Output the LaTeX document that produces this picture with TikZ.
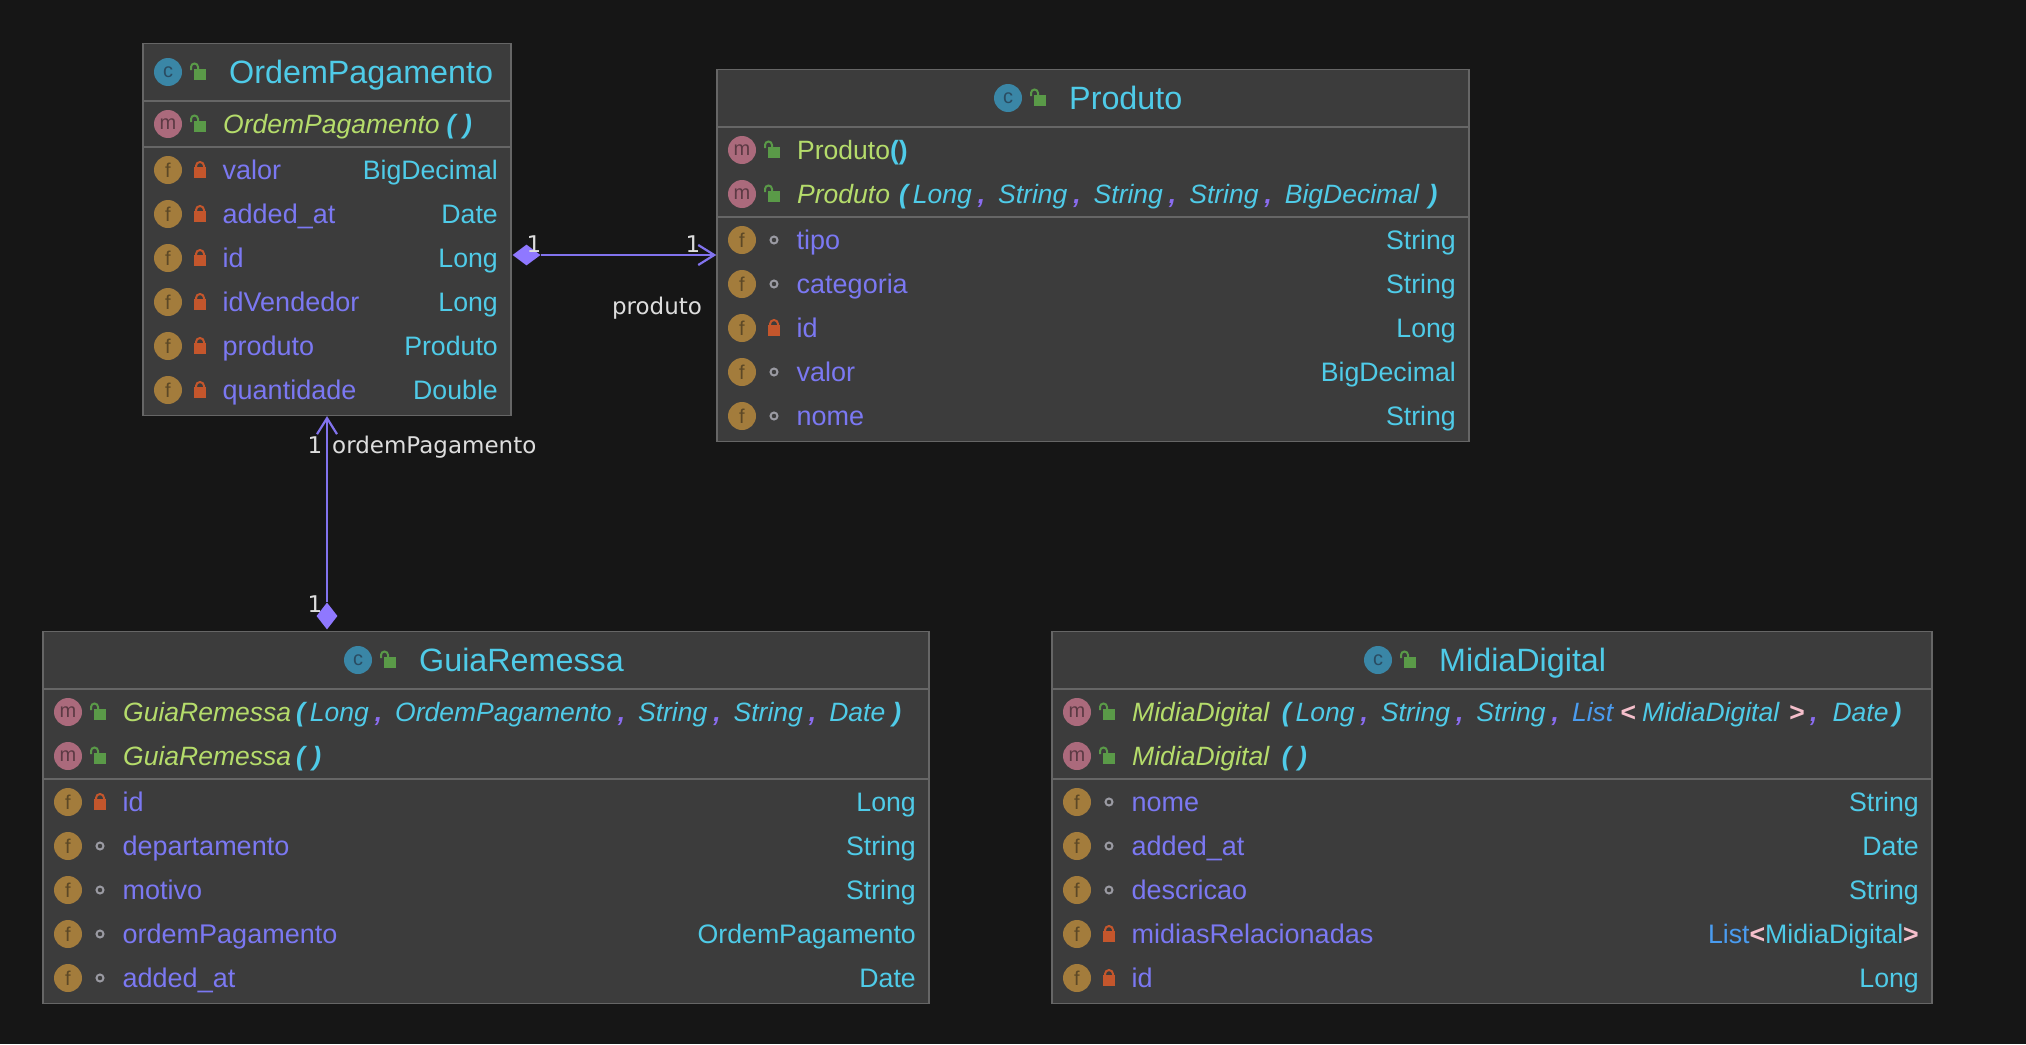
\documentclass[tikz,border=0pt]{standalone}
\usepackage{fontspec}
\setmainfont{Liberation Sans}
\newfontfamily\lblfont{DejaVu Sans}
\usetikzlibrary{shapes.geometric,arrows.meta}
\definecolor{bgc}{HTML}{161616}
\definecolor{boxc}{HTML}{3C3C3C}
\definecolor{rulec}{HTML}{666666}
\definecolor{titlec}{HTML}{4FCBE8}
\definecolor{greenc}{HTML}{B5DC6B}
\definecolor{fieldc}{HTML}{7B78F2}
\definecolor{listc}{HTML}{4A9CF0}
\definecolor{pinkc}{HTML}{F5BFCB}
\definecolor{iconC}{HTML}{3A86A6}
\definecolor{iconCt}{HTML}{2A4C62}
\definecolor{iconM}{HTML}{AB6A7C}
\definecolor{iconMt}{HTML}{5C3A44}
\definecolor{iconF}{HTML}{A37C3C}
\definecolor{iconFt}{HTML}{5C4826}
\definecolor{lockG}{HTML}{5A9A48}
\definecolor{lockR}{HTML}{C4562C}
\definecolor{dotc}{HTML}{9A9AA2}
\definecolor{linkc}{HTML}{8273EE}
\definecolor{diac}{HTML}{8F78FF}
\definecolor{lblc}{HTML}{DDDDDD}
\definecolor{commac}{HTML}{8A6CF0}
\newcommand{\fsz}[1]{\fontsize{#1}{#1}\selectfont}
\newcommand{\mN}[1]{\textcolor{greenc}{\textit{#1}}}
\newcommand{\pL}[1]{\textcolor{titlec}{\textbf{\textit{#1}}}}
\newcommand{\tY}[1]{\textcolor{titlec}{\textit{#1}}}
\newcommand{\cM}{\hspace{6pt}\textcolor{commac}{\textbf{\textit{,}}}\hspace{13pt}}
\tikzset{
  x=1pt,y=-1pt,
  umlbox/.style={draw=rulec,fill=boxc,line width=1.6pt,inner sep=0pt,anchor=north west},
  seprule/.style={draw=rulec,line width=2pt},
  titletxt/.style={anchor=base west,inner sep=0pt,text=titlec,font=\fsz{32.3}},
  rowtxt/.style={anchor=base west,inner sep=0pt,font=\fsz{26.5}},
  nametxt/.style={rowtxt,text=fieldc,font=\fsz{27}},
  typetxt/.style={anchor=base east,inner sep=0pt,font=\fsz{26.7},text=titlec},
  iconbase/.style={circle,inner sep=0pt,minimum size=28pt,font=\fsz{20}},
  iconc/.style={iconbase,fill=iconC,text=iconCt},
  iconm/.style={iconbase,fill=iconM,text=iconMt},
  iconf/.style={iconbase,fill=iconF,text=iconFt},
  link/.style={draw=linkc,line width=2.2pt},
  diamondend/.style={diamond,fill=diac,inner sep=0pt},
  lbl/.style={anchor=base,inner sep=0pt,text=lblc,font=\lblfont\fsz{23}},
}
\newcommand{\openlock}[2]{%
  \fill[lockG] (#1-6,#2-3) rectangle (#1+6,#2+8);
  \draw[lockG,line width=2pt] (#1-9,#2-2) -- (#1-9,#2-5) arc[start angle=180,end angle=360,radius=3.5] -- (#1-2,#2-2);
}
\newcommand{\closedlock}[2]{%
  \fill[lockR] (#1-6,#2-3) rectangle (#1+6,#2+8);
  \draw[lockR,line width=2pt] (#1-4,#2-2) -- (#1-4,#2-4) arc[start angle=180,end angle=360,radius=4] -- (#1+4,#2-2);
}
\newcommand{\pkgdot}[2]{\draw[dotc,line width=2pt] (#1,#2) circle[radius=3.5];}
\newcommand{\titlerow}[4]{%
  \node[iconc] (#1icon) at (#2,#3) {c};
  \openlock{#2+32}{#3}
  \node[titletxt] (#1title) at (#2+61,#3+11) {#4};
}
\newcommand{\mrow}[5]{%
  \node[iconm] (#1m#2) at (#3+25,#4) {m};
  \openlock{#3+57}{#4}
  \node[rowtxt] (#1mt#2) at (#3+80,#4+9) {#5};
}
\newcommand{\frow}[8]{%
  \node[iconf] (#1f#2) at (#3+25,#5) {f};
  #6{#3+57}{#5}
  \node[nametxt] (#1n#2) at (#3+79.5,#5+9) {#7};
  \node[typetxt] (#1t#2) at (#4-13,#5+9) {#8};
}
\newcommand{\sepline}[2]{\draw[seprule] (#1.west |- 0,#2) -- (#1.east |- 0,#2);}
\begin{document}
\begin{tikzpicture}
\useasboundingbox[fill=bgc] (0,0) rectangle (2026,1044);
% ---------- OrdemPagamento
\node[umlbox,minimum width=368pt,minimum height=372pt] (ordem) at (142.3,42.5) {};
\sepline{ordem}{101}
\sepline{ordem}{147}
\titlerow{ordem}{168}{72}{OrdemPagamento}
\mrow{ordem}{1}{143}{124}{\mN{OrdemPagamento}\hspace{7pt}\pL{(}\hspace{5pt}\pL{)}}
\frow{ordem}{1}{143}{511}{170}{\closedlock}{valor}{BigDecimal}
\frow{ordem}{2}{143}{511}{214}{\closedlock}{added\_at}{Date}
\frow{ordem}{3}{143}{511}{258}{\closedlock}{id}{Long}
\frow{ordem}{4}{143}{511}{302}{\closedlock}{idVendedor}{Long}
\frow{ordem}{5}{143}{511}{346}{\closedlock}{produto}{Produto}
\frow{ordem}{6}{143}{511}{390}{\closedlock}{quantidade}{Double}
% ---------- Produto
\node[umlbox,minimum width=752pt,minimum height=372pt] (prod) at (716.3,68.5) {};
\sepline{prod}{127}
\sepline{prod}{217}
\titlerow{prod}{1008}{98}{Produto}
\mrow{prod}{1}{717}{150}{\textcolor{greenc}{Produto}\textcolor{titlec}{\textbf{()}}}
\mrow{prod}{2}{717}{194}{\mN{Produto}\hspace{9pt}\pL{(}\hspace{2.5pt}\tY{Long}\cM\tY{String}\cM\tY{String}\cM\tY{String}\cM\tY{BigDecimal}\hspace{9pt}\pL{)}}
\frow{prod}{1}{717}{1469}{240}{\pkgdot}{tipo}{String}
\frow{prod}{2}{717}{1469}{284}{\pkgdot}{categoria}{String}
\frow{prod}{3}{717}{1469}{328}{\closedlock}{id}{Long}
\frow{prod}{4}{717}{1469}{372}{\pkgdot}{valor}{BigDecimal}
\frow{prod}{5}{717}{1469}{416}{\pkgdot}{nome}{String}
% ---------- GuiaRemessa
\node[umlbox,minimum width=886pt,minimum height=372pt] (guia) at (42.3,630.5) {};
\sepline{guia}{689}
\sepline{guia}{779}
\titlerow{guia}{358}{660}{GuiaRemessa}
\mrow{guia}{1}{43}{712}{\mN{GuiaRemessa}\hspace{5pt}\pL{(}\hspace{2.5pt}\tY{Long}\cM\tY{OrdemPagamento}\cM\tY{String}\cM\tY{String}\cM\tY{Date}\hspace{7pt}\pL{)}}
\mrow{guia}{2}{43}{756}{\mN{GuiaRemessa}\hspace{5pt}\pL{(}\hspace{5pt}\pL{)}}
\frow{guia}{1}{43}{929}{802}{\closedlock}{id}{Long}
\frow{guia}{2}{43}{929}{846}{\pkgdot}{departamento}{String}
\frow{guia}{3}{43}{929}{890}{\pkgdot}{motivo}{String}
\frow{guia}{4}{43}{929}{934}{\pkgdot}{ordemPagamento}{OrdemPagamento}
\frow{guia}{5}{43}{929}{978}{\pkgdot}{added\_at}{Date}
% ---------- MidiaDigital
\node[umlbox,minimum width=880pt,minimum height=372pt] (midia) at (1051.3,630.5) {};
\sepline{midia}{689}
\sepline{midia}{779}
\titlerow{midia}{1378}{660}{MidiaDigital}
\mrow{midia}{1}{1052}{712}{\mN{MidiaDigital}\hspace{12pt}\pL{(}\hspace{2.5pt}\tY{Long}\cM\tY{String}\cM\tY{String}\cM\textcolor{listc}{\textit{List}}\hspace{6pt}\textcolor{pinkc}{\textbf{\textit{<}}}\hspace{6.5pt}\tY{MidiaDigital}\hspace{9pt}\textcolor{pinkc}{\textbf{\textit{>}}}\cM\hspace{2pt}\tY{Date}\hspace{4pt}\pL{)}}
\mrow{midia}{2}{1052}{756}{\mN{MidiaDigital}\hspace{12pt}\pL{(}\hspace{5pt}\pL{)}}
\frow{midia}{1}{1052}{1932}{802}{\pkgdot}{nome}{String}
\frow{midia}{2}{1052}{1932}{846}{\pkgdot}{added\_at}{Date}
\frow{midia}{3}{1052}{1932}{890}{\pkgdot}{descricao}{String}
\frow{midia}{4}{1052}{1932}{934}{\closedlock}{midiasRelacionadas}{\textcolor{listc}{List}\textcolor{pinkc}{\textbf{<}}MidiaDigital\textcolor{pinkc}{\textbf{>}}}
\frow{midia}{5}{1052}{1932}{978}{\closedlock}{id}{Long}
% ---------- connectors
\node[diamondend,minimum width=28pt,minimum height=21pt] (diaA) at (526.5,255) {};
\node[diamondend,minimum width=21pt,minimum height=27pt] (diaB) at (327,616) {};
\draw[link,-{Straight Barb[length=16pt,width=20pt,line width=2.2pt]}] (diaA.east) -- (prod.west |- diaA.east);
\draw[link,-{Straight Barb[length=16pt,width=20pt,line width=2.2pt]}] (diaB.north) -- (ordem.south -| diaB.north);
% ---------- labels
\node[lbl] (l1) at (534,252) {1};
\node[lbl] (l2) at (693,252) {1};
\node[lbl] (l3) at (657,314) {produto};
\node[lbl,anchor=base west] (l4) at (332,453) {ordemPagamento};
\node[lbl] (l5) at (315,453) {1};
\node[lbl] (l6) at (315,612) {1};
\end{tikzpicture}
\end{document}
